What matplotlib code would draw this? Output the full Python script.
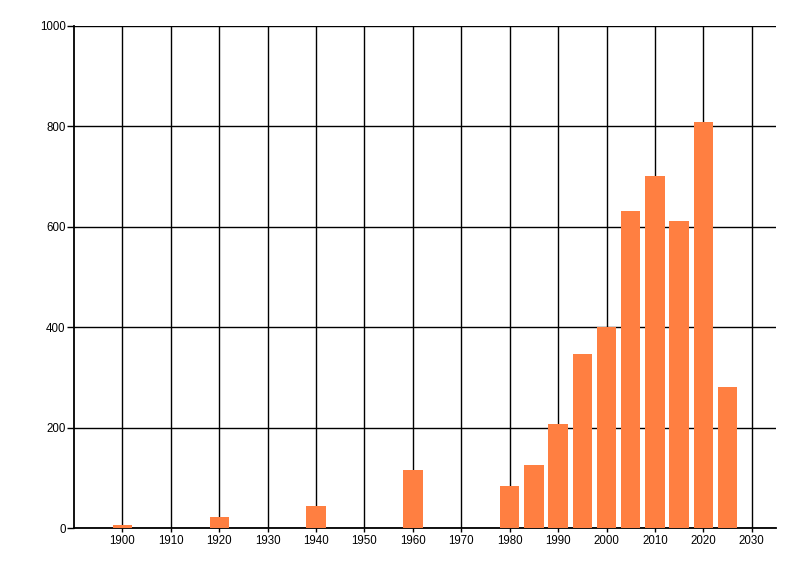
import numpy as np
import matplotlib
matplotlib.use('Agg')
import matplotlib.pyplot as plt

plt.rcParams['font.family'] = ['Liberation Sans', 'DejaVu Sans']

# años y valores
anios = [1900, 1920, 1940, 1960, 1980, 1985, 1990, 1995, 2000, 2005, 2010, 2015, 2020, 2025]
valores = [6, 22, 44, 115, 84, 126, 208, 347, 400, 631, 701, 611, 809, 280]

xticks = np.arange(1900, 2031, 10)
yticks = np.arange(0, 1001, 200)

fig = plt.figure(figsize=(8, 5.76), dpi=100)
ax = fig.add_axes([0.0925, 0.0833, 0.8775, 0.8716])

ax.bar(anios, valores, width=4, color='#FF7F41', zorder=3)

ax.set_xlim(1890, 2035)
ax.set_ylim(0, 1000)
ax.set_xticks(xticks)
ax.set_yticks(yticks)
ax.grid(True, color='black', linewidth=1)
ax.set_axisbelow(True)

for s in ['top', 'right']:
    ax.spines[s].set_visible(False)
for s in ['left', 'bottom']:
    ax.spines[s].set_linewidth(1.3)
    ax.spines[s].set_color('black')

ax.tick_params(axis='x', length=3, width=1, labelsize=8.3, pad=2)
ax.tick_params(axis='y', length=5, width=1, labelsize=8.3, pad=1)

fig.savefig('out.png', dpi=100)
